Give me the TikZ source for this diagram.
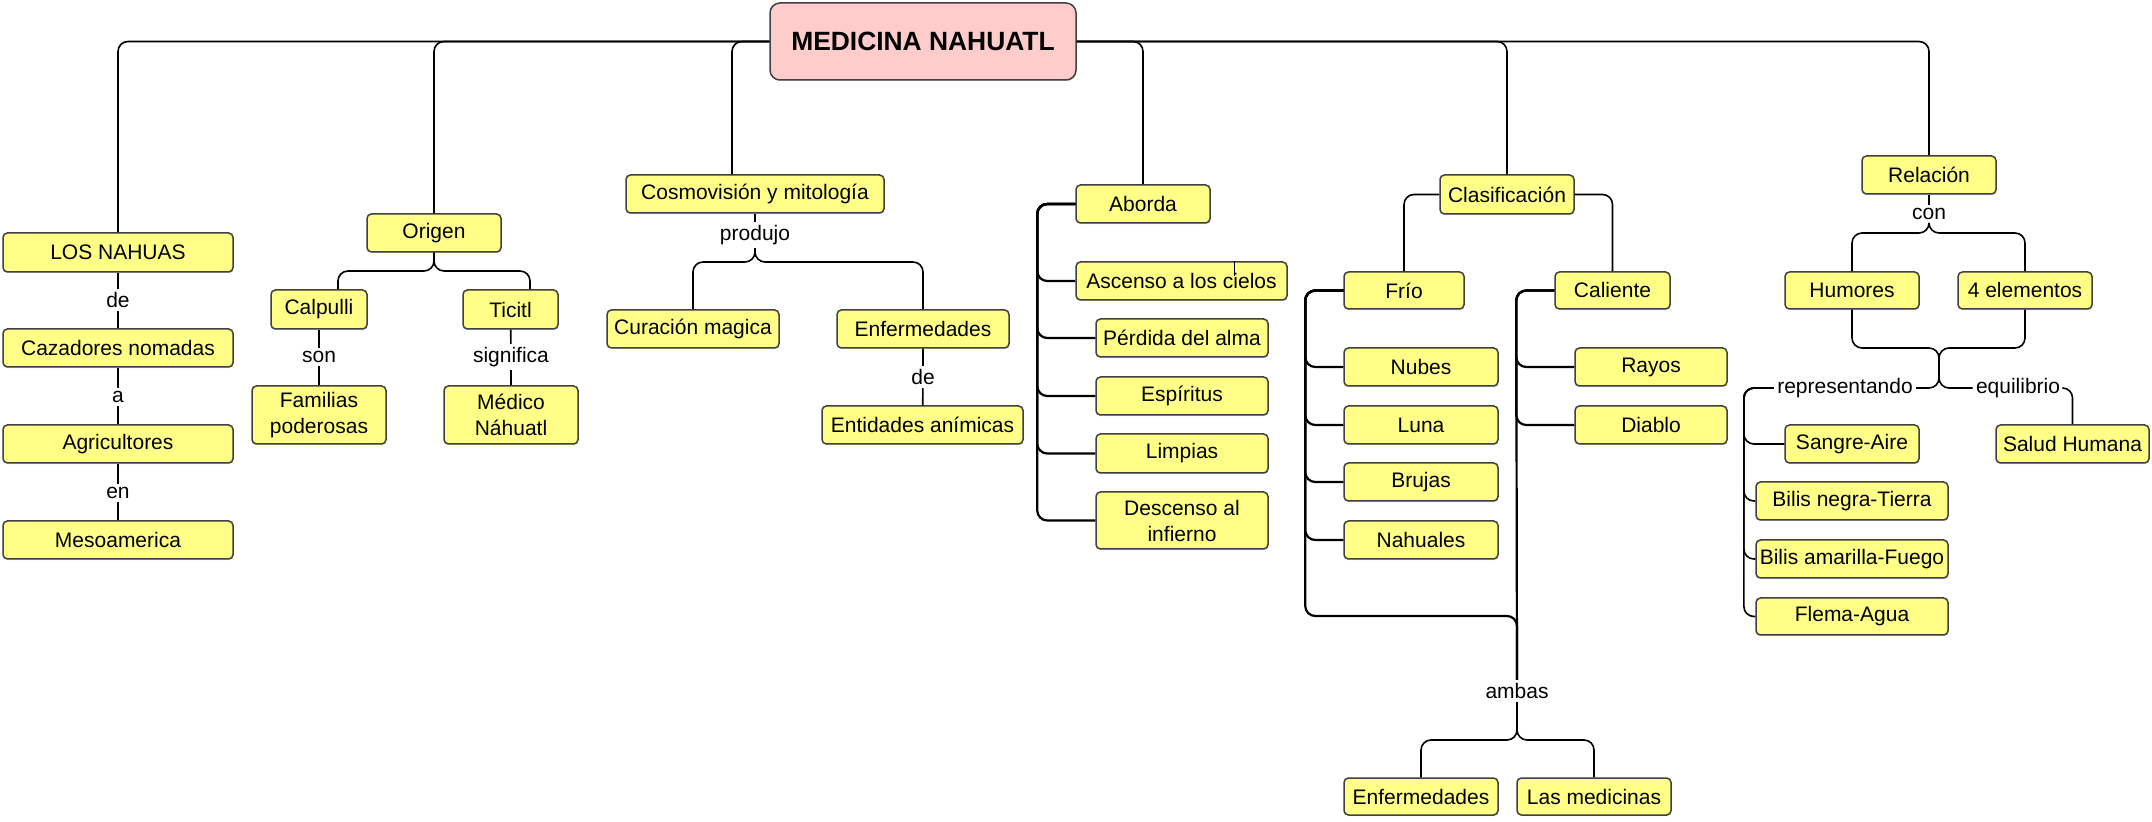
\documentclass[tikz,border=0pt]{standalone}
\usepackage{fontspec}
\setmainfont{Liberation Sans}
\usetikzlibrary{calc,shadows}
\definecolor{boxfill}{HTML}{FFFF88}
\definecolor{rootfill}{HTML}{FFCCCC}
\definecolor{boxline}{HTML}{404040}
\newcommand\bx[7][box]{%
  \pgfmathsetmacro\bxw{(#5-#3)*0.5}%
  \pgfmathsetmacro\bxh{(#6-#4)*0.5}%
  \node[#1, minimum width=\bxw pt, minimum height=\bxh pt] (#2) at ({(#3+#5)/2},{(#4+#6)/2}) {#7};}
\tikzset{
  box/.style={draw=boxline, fill=boxfill, line width=0.75pt, rounded corners=2.2pt, inner sep=1pt,
    align=center, font=\fontsize{10.5}{13}\selectfont,
    drop shadow={opacity=0.25, shadow xshift=0.3pt, shadow yshift=-0.6pt}},
  rootbox/.style={box, fill=rootfill, font=\fontsize{13.2}{15}\selectfont\bfseries, rounded corners=5pt},
  lbl/.style={inner sep=1.5pt, font=\fontsize{10.5}{13}\selectfont},
  conn/.style={draw=black, line width=0.8pt},
  rc/.style={conn, rounded corners=5pt},
  thk/.style={conn, line width=1.1pt, rounded corners=5pt}
}
\begin{document}
\begin{tikzpicture}[x=0.5pt, y=-0.5pt]
\useasboundingbox (0,0) rectangle (2152,822);
% helper coordinates
\coordinate (cx) at (732,0);
\coordinate (oy) at (0,271);
\coordinate (ox1) at (338,0);
\coordinate (ox2) at (530,0);
\coordinate (py) at (0,262);
\coordinate (ax) at (1234,0);
\coordinate (fm) at (1517,616);
\coordinate (ay) at (0,740);
\coordinate (ry) at (0,233);
\coordinate (mg) at (1939,348);
% labels
\node[lbl] (lde) at (118,300) {de};
\node[lbl] (la) at (118,397) {a};
\node[lbl] (len) at (118,493) {en};
\node[lbl] (lson) at (319,357) {son};
\node[lbl] (lsig) at (511,357) {significa};
\node[lbl] (lprod) at (755,235) {produjo};
\node[lbl] (lde2) at (923,377) {de};
\node[lbl] (lamb) at (1517,691) {ambas};
\node[lbl] (lcon) at (1929,214) {con};
\node[lbl] (lrep) at (1845,388) {representando};
\node[lbl] (lequ) at (2018,388) {equilibrio};
% nodes
\bx[rootbox]{root}{770}{3}{1076}{80}{MEDICINA NAHUATL}
\bx{los}{3}{233}{233}{272}{LOS NAHUAS}
\bx{caz}{3}{329}{233}{367}{Cazadores nomadas}
\bx{agr}{3}{425}{233}{463}{Agricultores}
\bx{meso}{3}{521}{233}{559}{Mesoamerica}
\bx{origen}{367}{214}{501}{252}{Origen}
\bx{calp}{271}{290}{367}{329}{Calpulli}
\bx{tic}{463}{290}{558}{329}{Ticitl}
\bx{fam}{252}{386}{386}{444}{Familias\\poderosas}
\bx{med}{444}{386}{578}{444}{Médico\\Náhuatl}
\bx{cosmo}{626}{175}{884}{213}{Cosmovisión y mitología}
\bx{cur}{607}{310}{779}{348}{Curación magica}
\bx{enf}{837}{310}{1009}{348}{Enfermedades}
\bx{ent}{822}{406}{1023}{444}{Entidades anímicas}
\bx{aborda}{1076}{185}{1210}{223}{Aborda}
\bx{asc}{1076}{262}{1287}{300}{Ascenso a los cielos}
\bx{perd}{1096}{319}{1268}{357}{Pérdida del alma}
\bx{esp}{1096}{377}{1268}{415}{Espíritus}
\bx{limp}{1096}{434}{1268}{473}{Limpias}
\bx{desc}{1096}{492}{1268}{549}{Descenso al\\infierno}
\bx{clas}{1440}{175}{1574}{214}{Clasificación}
\bx{frio}{1344}{272}{1464}{309}{Frío}
\bx{cal}{1555}{272}{1670}{309}{Caliente}
\bx{nubes}{1344}{348}{1498}{386}{Nubes}
\bx{luna}{1344}{406}{1498}{444}{Luna}
\bx{brujas}{1344}{463}{1498}{501}{Brujas}
\bx{nahu}{1344}{521}{1498}{559}{Nahuales}
\bx{rayos}{1575}{348}{1727}{386}{Rayos}
\bx{diablo}{1575}{406}{1727}{444}{Diablo}
\bx{enfb}{1344}{778}{1498}{815}{Enfermedades}
\bx{medic}{1517}{778}{1671}{815}{Las medicinas}
\bx{rel}{1862}{156}{1996}{194}{Relación}
\bx{hum}{1785}{272}{1919}{309}{Humores}
\bx{elem}{1958}{272}{2092}{309}{4 elementos}
\bx{salud}{1996}{425}{2149}{463}{Salud Humana}
\bx{sangre}{1785}{425}{1919}{463}{Sangre-Aire}
\bx{bneg}{1756}{482}{1948}{520}{Bilis negra-Tierra}
\bx{bam}{1756}{540}{1948}{578}{Bilis amarilla-Fuego}
\bx{flema}{1756}{598}{1948}{635}{Flema-Agua}
% root connectors
\draw[rc] (root.west) -| (los.north);
\draw[rc] (root.west) -| (origen.north);
\draw[rc] (root.west) -| (cosmo.north -| cx);
\draw[rc] (root.east) -| (aborda.north);
\draw[rc] (root.east) -| (clas.north);
\draw[rc] (root.east) -| (rel.north);
% los nahuas chain
\draw[conn] (los) -- (lde) -- (caz) -- (la) -- (agr) -- (len) -- (meso);
% origen
\draw[rc] (origen.south) -- (origen.south |- oy) -| (calp.north -| ox1);
\draw[rc] (origen.south) -- (origen.south |- oy) -| (tic.north -| ox2);
\draw[conn] (calp) -- (lson) -- (fam);
\draw[conn] (tic) -- (lsig) -- (med);
% cosmovision
\draw[conn] (cosmo) -- (lprod);
\draw[rc] (lprod.south) -- (lprod.south |- py) -| (cur.north);
\draw[rc] (lprod.south) -- (lprod.south |- py) -| (enf.north);
\draw[conn] (enf) -- (lde2) -- (ent);
% aborda
\foreach \c in {asc,perd,esp,limp,desc}
  \draw[thk] (aborda.west) -- ++(-38,0) |- (\c.west);
\draw[line width=0.5pt] (asc.north -| ax) -- ++(0,15);
% clasificacion
\draw[rc] (clas.west) -| (frio.north);
\draw[rc] (clas.east) -| (cal.north);
\foreach \c in {nubes,luna,brujas,nahu}
  \draw[thk] (frio.west) -- ++(-38,0) |- (\c.west);
\draw[thk] (frio.west) -- ++(-38,0) |- (fm) -- (lamb.north);
\foreach \c in {rayos,diablo}
  \draw[thk] (cal.west) -- ++(-38,0) |- (\c.west);
\draw[thk] (cal.west) -- ++(-38,0) -- (lamb.north);
\draw[rc] (lamb.south) -- (lamb.south |- ay) -| (enfb.north);
\draw[rc] (lamb.south) -- (lamb.south |- ay) -| (medic.north);
% relacion
\draw[conn] (rel) -- (lcon);
\draw[rc] (lcon.south) -- (lcon.south |- ry) -| (hum.north);
\draw[rc] (lcon.south) -- (lcon.south |- ry) -| (elem.north);
\draw[rc] (hum.south) |- (mg) -- (mg |- lrep.east) -- (lrep.east);
\draw[rc] (elem.south) |- (mg) -- (mg |- lequ.west) -- (lequ.west);
\foreach \c in {sangre,bneg,bam,flema}
  \draw[rc] (lrep.west) -- ++(-30,0) |- (\c.west);
\draw[rc] (lequ.east) -| (salud.north);
\end{tikzpicture}
\end{document}
